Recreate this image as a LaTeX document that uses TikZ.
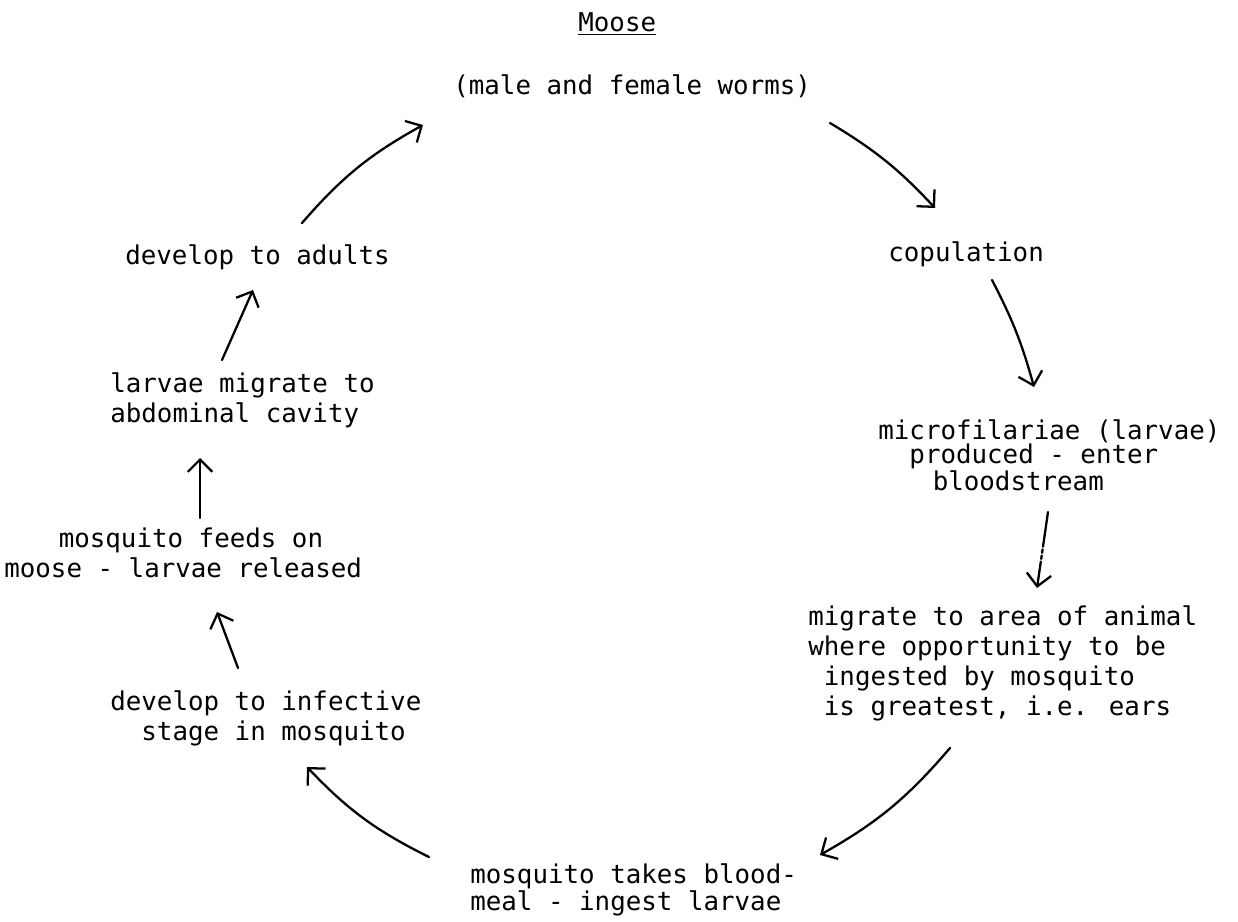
\documentclass[tikz,border=0pt]{standalone}
\usepackage{fontspec}
\setmainfont{DejaVu Sans Mono}
\usetikzlibrary{positioning,arrows.meta}
\newlength{\chw}
\newcommand{\ind}[1]{\hspace*{#1\chw}}
\tikzset{typed/.style={font=\fontsize{14.7}{13.7}\selectfont, inner sep=0pt, anchor=base west, align=left},
       loose/.style={typed, font=\fontsize{14.7}{17}\selectfont},
       flow/.style={line width=1.3pt, line cap=round, -{Straight Barb[length=7pt,width=14pt]}}}
\begin{document}
\settowidth{\chw}{\fontsize{14.7}{17}\selectfont x}
\begin{tikzpicture}[x=0.02cm, y=-0.02cm]
\useasboundingbox (0,0) rectangle (1238,922);
% stages of the cycle (placed at the baseline of their last line)
\node [typed] (host) at (578,32) {\underline{Moose}};
\node [typed] (worms) at (453,95) {(male and female worms)};
\node [typed] (mating) at (888,262) {copulation};
\node [typed] (larvae) at (878,490) {microfilariae (larvae)\\\ind{2}produced - enter\\\ind{3.5}bloodstream};
\node [loose] (ears) at (808,715) {migrate to area of animal\\where opportunity to be\\\ind{1}ingested by mosquito\\\ind{1}is greatest, i.e. ears};
\node [typed] (bloodmeal) at (470,910) {mosquito takes blood-\\meal - ingest larvae};
\node [loose] (infective) at (110,740) {develop to infective\\\ind{2}stage in mosquito};
\node [loose] (feeds) at (4,577) {\ind{3.5}mosquito feeds on\\moose - larvae released};
\node [loose] (migrate) at (110,422) {larvae migrate to\\abdominal cavity};
\node [typed] (adults) at (125,265) {develop to adults};
% arrow ends
\coordinate (adults-out) at (302,223);
\coordinate (worms-in) at (423,125);
\coordinate (worms-out) at (830,123);
\coordinate (mating-in) at (935,208);
\coordinate (mating-out) at (992,280);
\coordinate (larvae-in) at (1034,387);
\coordinate (larvae-out) at (1048,512);
\coordinate (ears-in) at (1037,588);
\coordinate (ears-out) at (950,748);
\coordinate (bloodmeal-in) at (820,855);
\coordinate (bloodmeal-out) at (429,857);
\coordinate (infective-in) at (307,767);
\coordinate (infective-out) at (238,668);
\coordinate (feeds-in) at (217,612);
\coordinate (feeds-out) at (200,518);
\coordinate (migrate-in) at (200,458);
\coordinate (migrate-out) at (222,360);
\coordinate (adults-in) at (253,290);
\draw [flow] (adults-out) to[bend left=10] (worms-in);
\draw [flow] (worms-out) to[bend left=8] (mating-in);
\draw [flow] (mating-out) to[bend left=6] (larvae-in);
\draw [flow, dash pattern=on 20pt off 1.5pt on 2pt off 1.5pt on 2pt off 1.5pt on 30pt] (larvae-out) -- (ears-in);
\draw [flow] (ears-out) to[bend left=10] (bloodmeal-in);
\draw [flow] (bloodmeal-out) to[bend left=10] (infective-in);
\draw [flow] (infective-out) -- (feeds-in);
\draw [flow] (feeds-out) -- (migrate-in);
\draw [flow] (migrate-out) -- (adults-in);
\end{tikzpicture}
\end{document}
